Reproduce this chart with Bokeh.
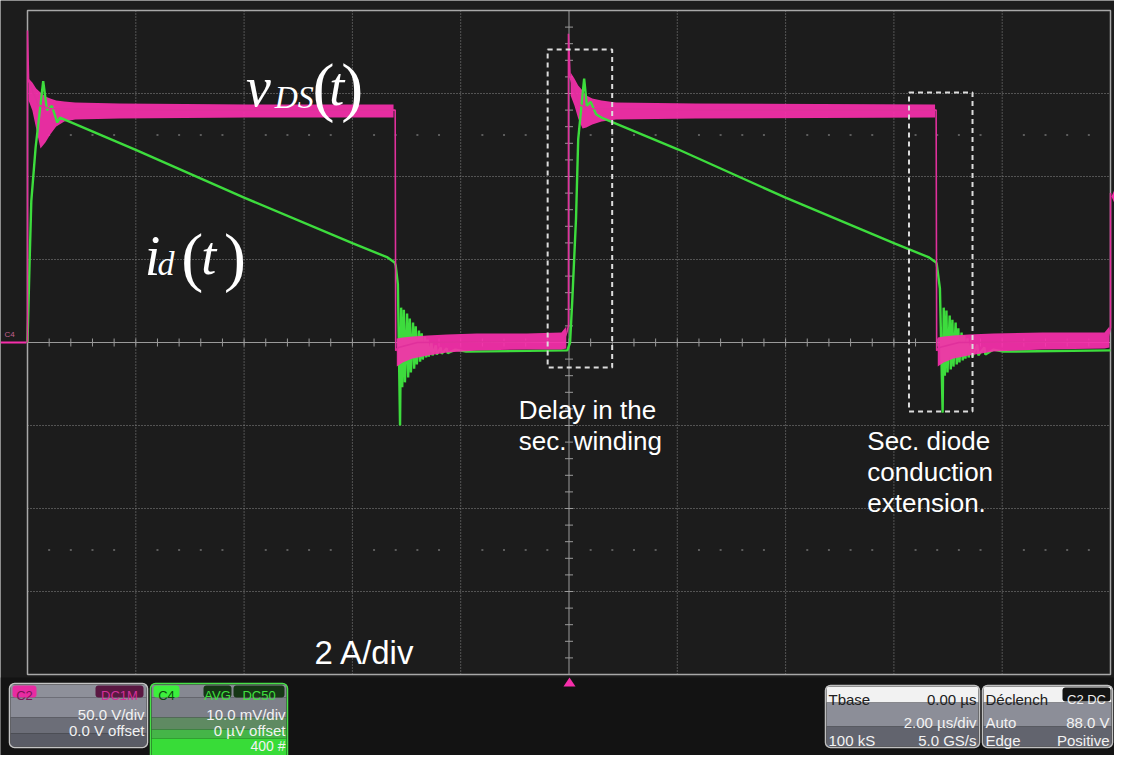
import numpy as np
from bokeh.plotting import figure
from bokeh.models import Range1d
from bokeh.core.properties import value
from bokeh.embed import file_html
from bokeh.resources import INLINE

# ---------------- data ----------------
# time base 2 us/div (0..20 us), C2 = v_DS at 50 V/div, C4 = i_d at 2 A/div
time_grid_us = [0, 2, 4, 6, 8, 10, 12, 14, 16, 18, 20]
volt_grid_v = [-200, -150, -100, -50, 0, 50, 100, 150, 200]

# v_DS thin trace (us, V)
vds_t = [0.00, 0.00, 0.02, 0.09, 0.20, 0.40, 3.00, 6.79, 6.80, 6.85, 7.20, 9.00, 9.90, 9.96, 9.99, 9.99,
         10.02, 10.08, 10.20, 10.40, 13.00, 16.78, 16.79, 16.84, 17.20, 19.00, 19.93, 19.98, 20.00, 20.00]
vds_v = [0.0, 188.0, 158.0, 152.0, 143.0, 141.0, 140.0, 140.0, -5.0, -3.0, 0.0, 0.5, 1.0, 6.0, 10.0, 186.0,
         160.0, 153.0, 143.0, 141.0, 140.0, 140.0, -5.0, -3.0, 0.0, 0.5, 1.0, 6.0, 9.0, 90.0]

# v_DS noise / ringing envelope, plateau segments (us, V)
vds_plateau_t = [[0.02, 0.09, 0.16, 0.24, 0.33, 0.42, 0.53, 0.68, 0.88, 1.70, 4.09, 6.76],
                 [10.03, 10.10, 10.17, 10.25, 10.32, 10.43, 10.60, 10.87, 12.34, 16.76]]
vds_plateau_hi = [[159.0, 156.6, 153.0, 150.6, 148.2, 147.0, 145.8, 145.2, 144.6, 144.0, 143.4, 143.4],
                  [162.6, 159.0, 154.8, 151.8, 148.8, 147.0, 145.8, 144.6, 144.0, 143.4]]
vds_plateau_lo = [[145.8, 139.8, 128.9, 116.9, 120.5, 125.3, 130.1, 133.1, 134.3, 134.9, 135.5, 135.5],
                  [148.8, 142.8, 134.9, 128.9, 129.5, 131.3, 133.1, 134.3, 134.9, 135.5]]
# v_DS envelope, zero-level segments (us, V)
vds_zero_t = [[6.82, 6.93, 7.11, 7.39, 7.75, 8.30, 9.22, 9.86, 9.95],
              [16.81, 16.92, 17.10, 17.38, 17.84, 18.75, 19.89, 19.98]]
vds_zero_hi = [[2.4, 3.0, 3.6, 4.2, 4.8, 5.4, 5.4, 6.0, 9.6],
               [3.0, 3.6, 4.2, 4.8, 5.4, 6.0, 6.0, 9.6]]
vds_zero_lo = [[-14.5, -12.0, -9.6, -7.8, -6.0, -4.8, -4.2, -4.2, -3.6],
               [-14.5, -12.0, -9.6, -7.8, -5.4, -4.2, -3.6, -3.0]]

# i_d trace (us, A)
id_t = [0.00, 0.04, 0.07, 0.15, 0.29, 0.36, 0.45, 0.55, 0.60, 2.02, 4.00, 6.01, 6.65, 6.78, 6.80, 6.84,
        6.88, 6.90, 6.92, 6.95, 6.97, 7.01, 7.03, 7.06, 7.08, 7.12, 7.14, 7.17, 7.19, 7.23, 7.25, 7.28,
        7.30, 7.34, 7.36, 7.39, 7.41, 7.46, 7.48, 7.54, 7.56, 7.63, 7.65, 7.74, 7.76, 7.90, 8.10, 9.97,
        10.02, 10.06, 10.13, 10.17, 10.26, 10.28, 10.33, 10.40, 10.50, 10.60, 12.02, 14.00, 16.01, 16.65,
        16.78, 16.79, 16.85, 16.90, 16.92, 16.94, 16.97, 16.99, 17.03, 17.05, 17.08, 17.10, 17.14, 17.16,
        17.19, 17.21, 17.25, 17.27, 17.30, 17.32, 17.36, 17.38, 17.43, 17.45, 17.54, 17.56, 17.67, 17.69,
        17.84, 18.02, 20.00]
id_a = [0.0, 2.0, 3.4, 4.7, 6.3, 5.6, 5.7, 5.3, 5.42, 4.63, 3.49, 2.39, 2.05, 1.93, 1.85, 1.40,
        -2.00, 0.84, -1.08, 0.79, -0.96, 0.70, -0.84, 0.58, -0.72, 0.48, -0.63, 0.39, -0.53, 0.29, -0.46, 0.22,
        -0.41, 0.14, -0.36, 0.07, -0.34, 0.00, -0.31, -0.07, -0.29, -0.12, -0.27, -0.14, -0.26, -0.17, -0.22, -0.19,
        0.0, 1.0, 3.0, 4.9, 6.1, 6.36, 5.7, 5.8, 5.5, 5.42, 4.65, 3.49, 2.39, 2.05,
        1.93, 1.90, 1.30, -1.69, 0.84, -0.80, 0.77, -0.72, 0.65, -0.65, 0.55, -0.58, 0.48, -0.53,
        0.34, -0.48, 0.24, -0.43, 0.17, -0.39, 0.10, -0.36, 0.05, -0.34, -0.05, -0.31, -0.12, -0.29,
        -0.17, -0.22, -0.19]

# ---------------- layout ----------------
W, H = 1114, 755
GL, GR, GT, GB = 27, 1110, 10, 674   # graticule edges in canvas pixels
ZERO_Y = 342
DIVX = (GR - GL) / 10.0
DIVY = (GB - GT) / 8.0
US_DIV, V_DIV, A_DIV = 2.0, 50.0, 2.0


def X(x):
    """reference-screenshot x -> canvas x (graticule slightly narrowed to fit)"""
    return GL + (x - 27) * (GR - GL) / (1118.0 - 27)


def t_of(px):
    return (px - GL) / DIVX * US_DIV


def v_of(py):
    return (ZERO_Y - py) / DIVY * V_DIV


def a_of(py):
    return (ZERO_Y - py) / DIVY * A_DIV


BG = "#1c1c1c"
MAG = "#f72fab"
MAG_LINE = "#e0309c"
GRN = "#3ddc3d"

p = figure(width=W, height=H, x_range=Range1d(0, W), y_range=Range1d(H, 0),
           output_backend="svg", toolbar_location=None, x_axis_location=None, y_axis_location=None,
           min_border=0, background_fill_color=BG, border_fill_color=BG, outline_line_color=None)
p.grid.visible = False
p.extra_x_ranges = {"t": Range1d(t_of(0), t_of(W))}
p.extra_y_ranges = {"v": Range1d(v_of(H), v_of(0)), "a": Range1d(a_of(H), a_of(0))}
TV = dict(x_range_name="t", y_range_name="v")
TA = dict(x_range_name="t", y_range_name="a")

# ---------------- graticule ----------------
tmin, tmax = time_grid_us[0], time_grid_us[-1]
vmin, vmax = volt_grid_v[0], volt_grid_v[-1]
inner_t = [t for t in time_grid_us[1:-1] if t != 10]
inner_v = [v for v in volt_grid_v[1:-1] if v != 0]
p.segment(x0=inner_t, y0=[vmin] * len(inner_t), x1=inner_t, y1=[vmax] * len(inner_t),
          line_color="#8a8a8a", line_dash="1 2", line_width=1, **TV)
p.segment(x0=[tmin] * len(inner_v), y0=inner_v, x1=[tmax] * len(inner_v), y1=inner_v,
          line_color="#8a8a8a", line_dash="1 2", line_width=1, **TV)
# faint dot rows at +-2.5 div
dot_t = [t for t in np.arange(0.4, 20.0, 0.4) if abs(t / 2 - round(t / 2)) > 1e-6]
for vv in (125, -125):
    p.scatter(x=dot_t, y=[vv] * len(dot_t), marker="square", size=2, fill_color="#5c5c5c",
              line_color=None, **TV)
# centre cross with ticks
p.segment(x0=[10], y0=[vmin], x1=[10], y1=[vmax], line_color="#9a9a9a", line_width=1, **TV)
p.segment(x0=[tmin], y0=[0], x1=[tmax], y1=[0], line_color="#9a9a9a", line_width=1, **TV)
tick_t = [t for t in np.arange(0.4, 20.0, 0.4)]
tick_v = [v for v in np.arange(-190, 200, 10)]
dv = 4 / DIVY * V_DIV
dt = 4 / DIVX * US_DIV
p.segment(x0=tick_t, y0=[-dv] * len(tick_t), x1=tick_t, y1=[dv] * len(tick_t),
          line_color="#9a9a9a", line_width=1, **TV)
p.segment(x0=[10 - dt] * len(tick_v), y0=tick_v, x1=[10 + dt] * len(tick_v), y1=tick_v,
          line_color="#9a9a9a", line_width=1, **TV)
# border
p.quad(left=[tmin], right=[tmax], bottom=[vmin], top=[vmax], fill_color=None,
       line_color="#a8a8a8", line_width=1.5, **TV)

# ---------------- traces ----------------
for xs, lo, hi in zip(vds_plateau_t, vds_plateau_lo, vds_plateau_hi):
    p.varea(x=xs, y1=lo, y2=hi, fill_color=MAG, fill_alpha=0.92, **TV)
p.line(id_t, id_a, line_color=GRN, line_width=2.4, **TA)
for xs, lo, hi in zip(vds_zero_t, vds_zero_lo, vds_zero_hi):
    p.varea(x=xs, y1=lo, y2=hi, fill_color=MAG, fill_alpha=0.92, **TV)
p.line(vds_t, vds_v, line_color=MAG_LINE, line_width=1.6, **TV)

# channel ground marker (left) and trigger markers
p.segment(x0=[0], y0=[ZERO_Y], x1=[GL - 1], y1=[ZERO_Y], line_color=MAG, line_width=2)
p.text(x=[4], y=[334], text=["C4"], text_font=value("Liberation Sans"), text_font_size=value("8px"),
       text_color="#c0608f", text_baseline="alphabetic")
p.patch(x=[GR + 1, W, W], y=[196, 189, 203], fill_color=MAG, line_color=None)


# ---------------- annotations ----------------
def label(x, y, s, size, color="#ffffff", align="left", font="Liberation Sans", style="normal"):
    p.text(x=[x], y=[y], text=[s], text_font=value(font), text_font_size=value(f"{size}px"),
           text_color=color, text_align=align, text_baseline="alphabetic", text_font_style=style)


SERIF = "Liberation Serif"
label(X(247), 86, "v", 56, font=SERIF, style="italic")
label(X(276), 96, "DS", 32, font=SERIF, style="italic")
label(X(314), 86, "(", 66, font=SERIF)
label(X(331), 86, "t", 54, font=SERIF, style="italic")
label(X(343), 86, ")", 66, font=SERIF)

label(X(145), 255, "i", 56, font=SERIF, style="italic")
label(X(158), 263, "d", 34, font=SERIF, style="italic")
label(X(182), 256, "(", 66, font=SERIF)
label(X(202), 255, "t", 54, font=SERIF, style="italic")
label(X(225), 256, ")", 66, font=SERIF)

label(X(522), 409, "Delay in the", 26)
label(X(522), 440, "sec. winding", 26)
label(X(873), 440, "Sec. diode", 26)
label(X(873), 471, "conduction", 26)
label(X(873), 502, "extension.", 26)
label(X(316), 652, "2 A/div", 33)

p.quad(left=[X(551), X(915)], right=[X(616), X(979)], top=[49, 92], bottom=[367, 411], fill_color=None,
       line_color="#dcdcdc", line_dash="5 4", line_width=2)

# ---------------- bottom information panel ----------------
p.quad(left=[0], right=[W], top=[677], bottom=[H], fill_color="#131313", line_color=None)
p.patch(x=[X(573), X(573) - 6, X(573) + 6], y=[677, 686, 686], fill_color=MAG, line_color=None)

UI = "Liberation Sans"


def bands(x0, x1, rows):
    for (y0, y1, c) in rows:
        p.quad(left=[x0], right=[x1], top=[y0], bottom=[y1], fill_color=c, line_color=None)


def badge(x0, x1, y0, y1, bg, s, fg, size=13):
    p.quad(left=[x0], right=[x1], top=[y0], bottom=[y1], fill_color=bg, line_color=None, border_radius=3)
    p.text(x=[(x0 + x1) / 2], y=[y1 - 2], text=[s], text_font=value(UI), text_font_size=value(f"{size}px"),
           text_color=fg, text_align="center", text_baseline="alphabetic")


# C2 box
bands(10, 146, [(684, 697, "#8e909a"), (697, 717, "#8a8c97"), (717, 733, "#6c6e78"), (733, 746, "#5a5c66")])
p.quad(left=[9], right=[147], top=[683], bottom=[747], fill_color=None, line_color="#c4c4c4",
       line_width=1.5, border_radius=5)
badge(12, 36, 685, 697, "#e82ba2", "C2", "#7a1458")
badge(95, 143, 685, 697, "#5a1842", "DC1M", "#d2309a")
label(144, 714, "50.0 V/div", 15, color="#f2f2f2", align="right", font=UI)
label(144, 730, "0.0 V offset", 15, color="#f2f2f2", align="right", font=UI)

# C4 box
bands(151, 286, [(684, 697, "#868892"), (697, 717, "#7c7f88"), (717, 729, "#5f8a62"),
                 (729, 738, "#45b548"), (738, 755, "#38dc38")])
p.quad(left=[150], right=[287], top=[683], bottom=[762], fill_color=None, line_color="#48e048",
       line_width=1.5, border_radius=5)
badge(153, 179, 685, 697, "#3cf03c", "C4", "#0c4c0c")
badge(203, 231, 685, 697, "#163616", "AVG", "#40e040")
badge(233, 284, 685, 697, "#163616", "DC50", "#40e040")
label(285, 714, "10.0 mV/div", 15, color="#f2f2f2", align="right", font=UI)
label(285, 730, "0 \u00b5V offset", 15, color="#f2f2f2", align="right", font=UI)
label(285, 745, "400 #", 14, color="#f2f2f2", align="right", font=UI)

# Tbase box
TB0, TB1 = 825, 979
bands(TB0 + 1, TB1 - 1, [(686, 702, "#f2f2f2"), (702, 726, "#8c8e98"), (726, 746, "#62646e")])
p.quad(left=[TB0], right=[TB1], top=[685], bottom=[747], fill_color=None, line_color="#c0c0c0",
       line_width=1.5, border_radius=5)
label(TB0 + 3, 699, "Tbase", 15, color="#202020", font=UI)
label(TB1 - 3, 699, "0.00 \u00b5s", 15, color="#202020", align="right", font=UI)
label(TB1 - 3, 722, "2.00 \u00b5s/div", 15, color="#f2f2f2", align="right", font=UI)
label(TB0 + 3, 740, "100 kS", 15, color="#f2f2f2", font=UI)
label(TB1 - 3, 740, "5.0 GS/s", 15, color="#f2f2f2", align="right", font=UI)

# Trigger box
TR0, TR1 = 982, 1112
bands(TR0 + 1, TR1 - 1, [(686, 702, "#f2f2f2"), (702, 726, "#8c8e98"), (726, 746, "#62646e")])
p.quad(left=[TR0], right=[TR1], top=[685], bottom=[747], fill_color=None, line_color="#c0c0c0",
       line_width=1.5, border_radius=5)
label(TR0 + 3, 699, "D\u00e9clench", 15, color="#202020", font=UI)
badge(TR1 - 50, TR1 - 2, 687, 701, "#141414", "C2 DC", "#f0f0f0", size=13)
label(TR0 + 3, 722, "Auto", 15, color="#f2f2f2", font=UI)
label(TR1 - 3, 722, "88.0 V", 15, color="#f2f2f2", align="right", font=UI)
label(TR0 + 3, 740, "Edge", 15, color="#f2f2f2", font=UI)
label(TR1 - 3, 740, "Positive", 15, color="#f2f2f2", align="right", font=UI)

open("out.html", "w").write(file_html(p, INLINE))
